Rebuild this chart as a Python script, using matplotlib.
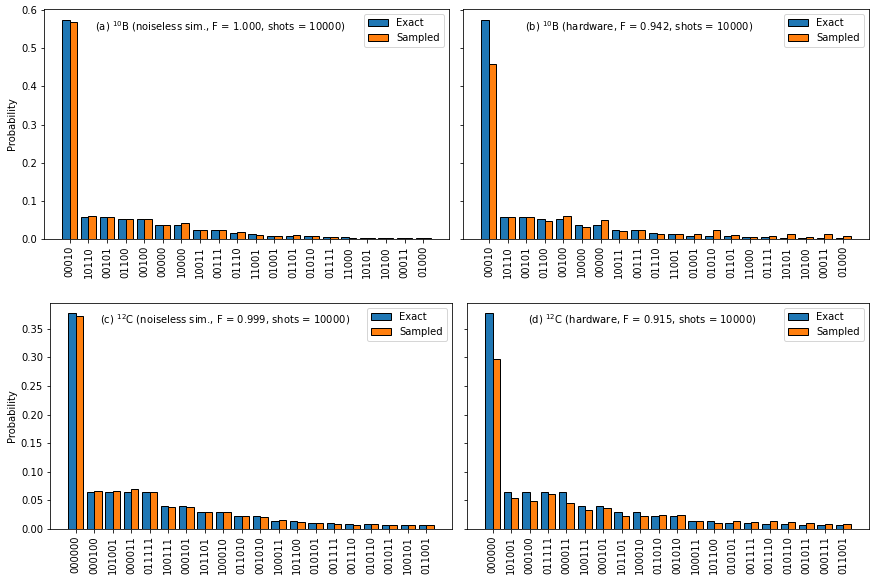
import numpy as np
import matplotlib
matplotlib.use("Agg")
import matplotlib.pyplot as plt

# (a) 10B noiseless simulator
states_a = ["00010", "10110", "00101", "01100", "00100", "00000", "10000", "10011", "00111", "01110",
            "11001", "01001", "01101", "01010", "01111", "11000", "10101", "10100", "00011", "01000"]
exact_a = [0.574, 0.0585, 0.0585, 0.052, 0.052, 0.037, 0.037, 0.0236, 0.0236, 0.0157,
           0.012, 0.0087, 0.008, 0.008, 0.005, 0.005, 0.0026, 0.0026, 0.0017, 0.0026]
sampled_a = [0.568, 0.061, 0.059, 0.052, 0.052, 0.036, 0.041, 0.024, 0.024, 0.018,
             0.011, 0.008, 0.0096, 0.007, 0.005, 0.0035, 0.0035, 0.0035, 0.0017, 0.0026]

# (b) 10B hardware
states_b = ["00010", "10110", "00101", "01100", "00100", "10000", "00000", "10011", "00111", "01110",
            "11001", "01001", "01010", "01101", "11000", "01111", "10101", "10100", "00011", "01000"]
exact_b = [0.574, 0.0585, 0.0585, 0.052, 0.052, 0.037, 0.037, 0.0236, 0.0236, 0.0157,
           0.012, 0.008, 0.008, 0.008, 0.005, 0.005, 0.0026, 0.0026, 0.0026, 0.0026]
sampled_b = [0.459, 0.0585, 0.0585, 0.047, 0.061, 0.031, 0.049, 0.021, 0.0227, 0.013,
             0.014, 0.012, 0.0236, 0.0096, 0.005, 0.007, 0.012, 0.0044, 0.012, 0.008]

# (c) 12C noiseless simulator
states_c = ["000000", "000100", "101001", "000011", "011111", "100111", "000101", "101101", "100010", "011010",
            "001010", "100011", "101100", "010101", "001111", "001110", "010110", "001011", "100101", "011001"]
exact_c = [0.377, 0.0653, 0.0653, 0.0653, 0.0653, 0.040, 0.040, 0.030, 0.030, 0.0228,
           0.0228, 0.0134, 0.0134, 0.0105, 0.0105, 0.0088, 0.0088, 0.007, 0.007, 0.007]
sampled_c = [0.373, 0.0665, 0.066, 0.070, 0.0648, 0.038, 0.0385, 0.029, 0.029, 0.0228,
             0.0204, 0.015, 0.0123, 0.011, 0.0088, 0.007, 0.0088, 0.007, 0.007, 0.007]

# (d) 12C hardware
states_d = ["000000", "101001", "000100", "011111", "000011", "100111", "000101", "101101", "100010", "011010",
            "001010", "100011", "101100", "010101", "001111", "001110", "010110", "001011", "000111", "011001"]
exact_d = [0.377, 0.0653, 0.0653, 0.0653, 0.0653, 0.040, 0.040, 0.030, 0.030, 0.0228,
           0.0228, 0.0134, 0.0134, 0.0105, 0.0105, 0.0088, 0.0088, 0.007, 0.007, 0.007]
sampled_d = [0.298, 0.054, 0.0496, 0.0607, 0.0455, 0.0338, 0.0373, 0.022, 0.0233, 0.024,
             0.0245, 0.014, 0.0105, 0.0134, 0.0128, 0.014, 0.0117, 0.011, 0.0088, 0.0088]

titles = [r"(a) $^{10}$B (noiseless sim., F = 1.000, shots = 10000)",
          r"(b) $^{10}$B (hardware, F = 0.942, shots = 10000)",
          r"(c) $^{12}$C (noiseless sim., F = 0.999, shots = 10000)",
          r"(d) $^{12}$C (hardware, F = 0.915, shots = 10000)"]

panels = [(states_a, exact_a, sampled_a), (states_b, exact_b, sampled_b),
          (states_c, exact_c, sampled_c), (states_d, exact_d, sampled_d)]

plt.rcParams["mathtext.default"] = "regular"
fig = plt.figure(figsize=(876 / 72, 582 / 72), dpi=72)

# axes boxes [left, bottom, width, height] in figure fraction
boxes = [[0.0502, 0.5893, 0.4623, 0.3952],
         [0.5285, 0.5893, 0.4635, 0.3952],
         [0.0571, 0.0911, 0.4589, 0.3891],
         [0.5331, 0.0911, 0.4589, 0.3891]]

axes = []
for i, box in enumerate(boxes):
    sharey = axes[i - 1] if i % 2 == 1 else None
    ax = fig.add_axes(box, sharey=sharey)
    axes.append(ax)

w = 0.4
for i, (ax, (states, exact, sampled)) in enumerate(zip(axes, panels)):
    x = np.arange(len(states))
    ax.bar(x - w / 2, exact, w, color="#1f77b4", edgecolor="black", linewidth=1, label="Exact")
    ax.bar(x + w / 2, sampled, w, color="#ff7f0e", edgecolor="black", linewidth=1, label="Sampled")
    ax.set_xticks(x)
    ax.set_xticklabels(states, rotation=90)
    ax.text(0.435, 0.925, titles[i], transform=ax.transAxes, ha="center", va="center", fontsize=10)
    ax.legend(loc="upper right", fontsize=10)
    if i % 2 == 0:
        ax.set_ylabel("Probability")
    else:
        ax.tick_params(labelleft=False)

fig.savefig("out.png", dpi=72)
